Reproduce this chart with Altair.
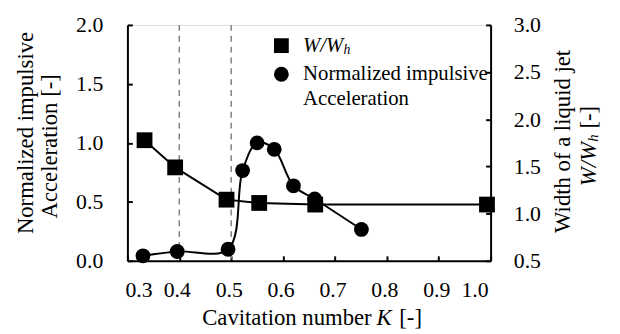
import altair as alt
import pandas as pd

# ---- data ----
acc_K = [0.33, 0.396, 0.494, 0.522, 0.55, 0.583, 0.62, 0.661, 0.751]
acc_val = [0.042, 0.079, 0.098, 0.765, 1.0, 0.945, 0.636, 0.524, 0.266]

w_K = [0.333, 0.392, 0.491, 0.554, 0.662, 0.993]
w_val = [1.778, 1.49, 1.148, 1.113, 1.096, 1.096]

dash_K = [0.4, 0.5]

x_ticks = [0.3, 0.4, 0.5, 0.6, 0.7, 0.8, 0.9, 1.0]
yl_ticks = [0.0, 0.5, 1.0, 1.5, 2.0]
yr_ticks = [0.5, 1.0, 1.5, 2.0, 2.5, 3.0]

acc_df = pd.DataFrame({"K": acc_K, "v": acc_val})
w_df = pd.DataFrame({"K": w_K, "v": w_val})
dash_df = pd.DataFrame({"K": dash_K})

FONT = "'Liberation Serif', 'Times New Roman', serif"
TICK_FS = 22
TITLE_FS = 23

xscale = alt.Scale(domain=[0.3, 1.0], nice=False, zero=False)
xaxis = alt.Axis(values=x_ticks, format=".1f", title=None, grid=False,
                 domainColor="black", domainWidth=2, tickColor="black",
                 tickWidth=2, tickSize={"expr": "-5"}, labelPadding=24,
                 labelOffset=-2.5,
                 labelFont=FONT, labelFontSize=TICK_FS, labelColor="black")

yl_axis = alt.Axis(orient="left", values=yl_ticks, format=".1f", title=None,
                   grid=False, domainColor="black", domainWidth=2,
                   tickColor="black", tickWidth=2, tickSize={"expr": "-5"},
                   labelPadding=30, labelFont=FONT, labelFontSize=TICK_FS,
                   labelColor="black")
yr_axis = alt.Axis(orient="right", values=yr_ticks, format=".1f", title=None,
                   grid=False, domainColor="black", domainWidth=2,
                   tickColor="black", tickWidth=2, tickSize={"expr": "-5"},
                   labelPadding=28, labelFont=FONT, labelFontSize=TICK_FS,
                   labelColor="black")

dash = alt.Chart(dash_df).mark_rule(color="#808080", strokeWidth=1.5,
                                    strokeDash=[6, 5]).encode(
    x=alt.X("K:Q", scale=xscale, axis=xaxis)
)

acc = alt.Chart(acc_df).mark_line(
    color="black", strokeWidth=2, interpolate="catmull-rom",
    point=alt.OverlayMarkDef(shape="circle", filled=True, size=225,
                             color="black", opacity=1)
).encode(
    x=alt.X("K:Q", scale=xscale, axis=xaxis),
    y=alt.Y("v:Q", scale=alt.Scale(domain=[0, 2], nice=False), axis=yl_axis),
)

wline = alt.Chart(w_df).mark_line(
    color="black", strokeWidth=2,
    point=alt.OverlayMarkDef(shape="square", filled=True, size=256,
                             color="black", opacity=1)
).encode(
    x=alt.X("K:Q", scale=xscale, axis=xaxis),
    y=alt.Y("v:Q", scale=alt.Scale(domain=[0.5, 3.0], nice=False,
                                    zero=False), axis=yr_axis),
)

one = alt.Data(values=[{"a": 1}])


def txt(s, x, y, size=TITLE_FS, angle=0, align="center", baseline="middle",
        style="normal"):
    return alt.Chart(one).mark_text(
        text=s, font=FONT, fontSize=size, angle=angle, align=align,
        baseline=baseline, fontStyle=style, color="black"
    ).encode(x=alt.value(x), y=alt.value(y))


def sym(shape, x, y, size):
    return alt.Chart(one).mark_point(
        shape=shape, filled=True, size=size, color="black", opacity=1
    ).encode(x=alt.value(x), y=alt.value(y))


labels = [
    # left title
    txt("Normalized impulsive", -103, 109.5, angle=270),
    txt("Acceleration  [-]", -78, 123, angle=270),
    # right title
    txt("Width of a liquid jet", 441.5, 118, angle=270),
    txt("W/W", 468, 141, angle=270, style="italic"),
    txt("h", 472, 114.5, size=15, angle=270, style="italic"),
    txt("[-]", 468, 93.5, angle=270),
    # x title
    txt("Cavitation number", 247.5, 304, align="right", baseline="alphabetic"),
    txt("K", 252.5, 304, align="left", baseline="alphabetic", style="italic"),
    txt("[-]", 275.5, 304, align="left", baseline="alphabetic"),
    # legend
    sym("square", 156, 21, 225),
    txt("W/W", 178, 21, size=21, align="left", style="italic"),
    txt("h", 219, 25, size=14, align="left", style="italic"),
    sym("circle", 156, 50, 225),
    txt("Normalized impulsive", 178, 50, size=21, align="left"),
    txt("Acceleration", 178, 75, size=21, align="left"),
]

data_layers = alt.layer(dash, acc, wline).resolve_scale(y="independent")

chart = alt.layer(data_layers, *labels).resolve_scale(y="independent").properties(
    width=368, height=239,
    autosize=alt.AutoSizeParams(type="none"),
    padding={"left": 121, "top": 15, "right": 123, "bottom": 70},
).configure_view(stroke="black", strokeWidth=2).configure(background="white")

chart.save("out.html", embed_options={"renderer": "svg", "actions": False})
